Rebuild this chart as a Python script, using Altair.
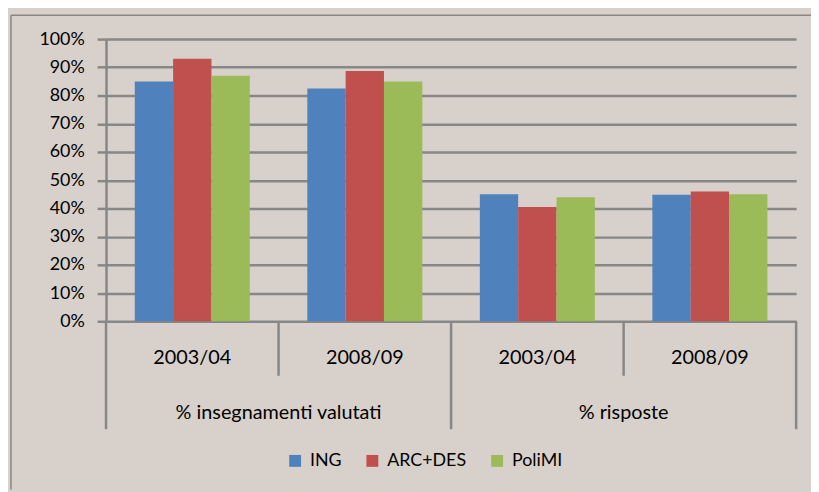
import altair as alt
import pandas as pd

categories = ["% insegnamenti valutati", "% risposte"]
years = ["2003/04", "2008/09"]
series = ["ING", "ARC+DES", "PoliMI"]
colors = ["#4F81BD", "#C0504D", "#9BBB59"]
ing = [0.85, 0.825, 0.45, 0.448]
arc = [0.93, 0.887, 0.405, 0.46]
poli = [0.87, 0.85, 0.44, 0.45]
y_ticks = [0, 0.1, 0.2, 0.3, 0.4, 0.5, 0.6, 0.7, 0.8, 0.9, 1.0]

FONT = "Lato"
GRID = "#878787"
BG = "#D8D0CA"
W, H = 697, 285

keys = [f"{c}|{y}" for c in categories for y in years]
rows = []
for i, k in enumerate(keys):
    for s, vals in zip(series, [ing, arc, poli]):
        rows.append({"key": k, "series": s, "value": vals[i]})
df = pd.DataFrame(rows)

lab = pd.DataFrame({"key": keys, "year": [k.split("|")[1] for k in keys]})
cat = pd.DataFrame({"key": [keys[1], keys[3]], "cat": categories})

xscale = alt.Scale(domain=keys, paddingInner=0, paddingOuter=0)

def X(**kw):
    return alt.X("key:N", sort=keys, scale=xscale, axis=None, **kw)

bars = alt.Chart(df).mark_bar().encode(
    x=alt.X("key:N", sort=keys, scale=xscale,
            axis=alt.Axis(labels=False, ticks=False, domain=False, grid=False, title=None)),
    xOffset=alt.XOffset("series:N", sort=series,
                        scale=alt.Scale(domain=series, paddingOuter=0.75, paddingInner=0)),
    y=alt.Y("value:Q", scale=alt.Scale(domain=[0, 1], nice=False),
            axis=alt.Axis(values=y_ticks, format=".0%", title=None, grid=True,
                          gridColor=GRID, gridWidth=2.5, gridOpacity=1,
                          domain=True, domainColor=GRID, domainWidth=2.5,
                          ticks=True, tickColor=GRID, tickWidth=2.5, tickSize=9,
                          labelPadding=13, labelFont=FONT, labelFontSize=18,
                          labelColor="black")),
    color=alt.Color("series:N", sort=series,
                    scale=alt.Scale(domain=series, range=colors),
                    legend=alt.Legend(title=None, orient="none", legendX=182, legendY=417,
                                      direction="horizontal", symbolType="square",
                                      symbolSize=144, symbolStrokeWidth=0,
                                      labelFont=FONT, labelFontSize=18, labelColor="black",
                                      labelOffset=6, columnPadding=22)),
)

long_sep = alt.Chart(pd.DataFrame({"key": [keys[0], keys[2]]})).mark_rule(
    color=GRID, strokeWidth=2.5).encode(
    x=X(bandPosition=0), y=alt.value(H), y2=alt.value(H + 109))
end_sep = alt.Chart(pd.DataFrame({"key": [keys[3]]})).mark_rule(
    color=GRID, strokeWidth=2.5).encode(
    x=X(bandPosition=1), y=alt.value(H), y2=alt.value(H + 109))
short_sep = alt.Chart(pd.DataFrame({"key": [keys[1], keys[3]]})).mark_rule(
    color=GRID, strokeWidth=2.5).encode(
    x=X(bandPosition=0), y=alt.value(H), y2=alt.value(H + 55))

year_txt = alt.Chart(lab).mark_text(font=FONT, fontSize=20, color="black",
                                    baseline="middle", align="center").encode(
    x=X(), y=alt.value(322), text="year:N")
cat_txt = alt.Chart(cat).mark_text(font=FONT, fontSize=20, color="black",
                                   baseline="middle", align="center").encode(
    x=X(bandPosition=0), y=alt.value(378), text="cat:N")

border_v = alt.Chart(pd.DataFrame({"a": [0]})).mark_rule(color=GRID, strokeWidth=1.5).encode(
    x=alt.value(-96), y=alt.value(-24), y2=alt.value(H + 170))
border_h = alt.Chart(pd.DataFrame({"a": [0]})).mark_rule(color=GRID, strokeWidth=1.5).encode(
    x=alt.value(-96), x2=alt.value(W + 15), y=alt.value(-24))

chart = alt.layer(border_v, border_h, bars, long_sep, end_sep, short_sep, year_txt, cat_txt).properties(
    width=W, height=H,
    padding={"left": 99, "top": 29, "right": 15, "bottom": 170},
    autosize=alt.AutoSizeParams(type="none"),
    background=BG,
).configure_view(stroke=None)

chart.save("out.html", embed_options={"renderer": "svg", "actions": False})
